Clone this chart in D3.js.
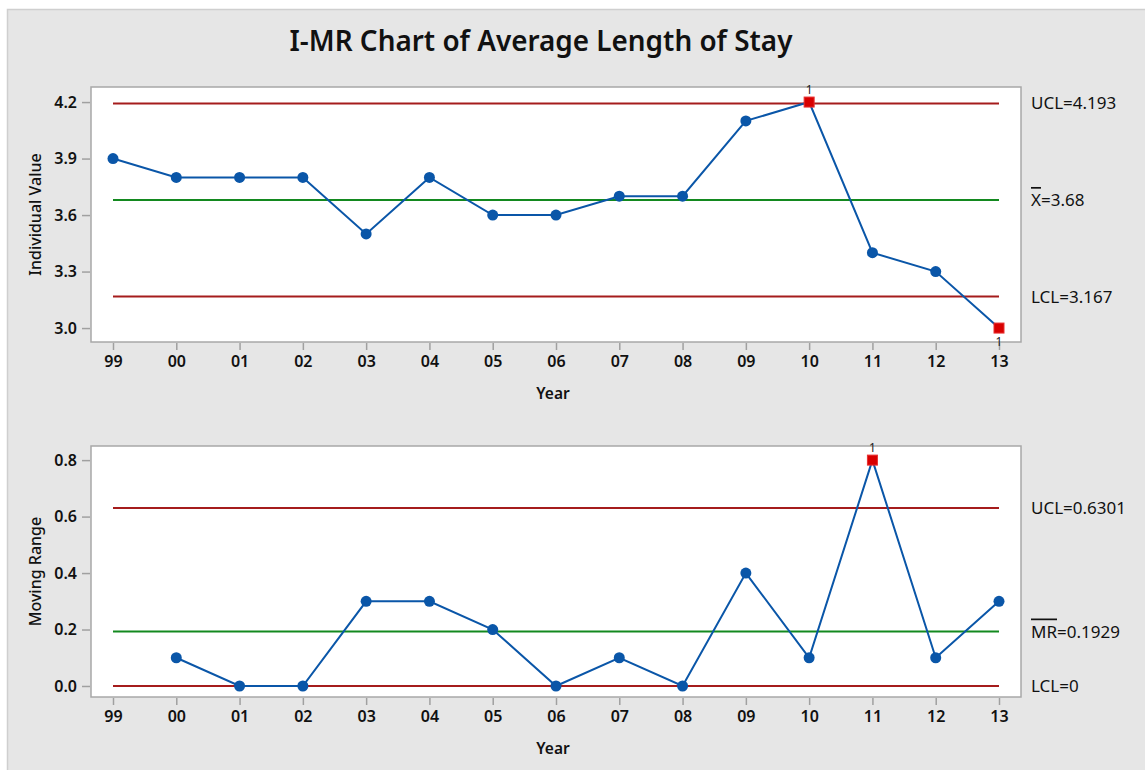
<!DOCTYPE html>
<html><head><meta charset="utf-8">
<script src="https://cdn.jsdelivr.net/npm/d3@7"></script>
<style>body{margin:0;background:#fff;} svg{display:block;font-family:"Noto Sans","Open Sans",sans-serif;}</style>
</head><body>
<svg id="c" width="1145" height="770"></svg>
<script>
const years = ["99","00","01","02","03","04","05","06","07","08","09","10","11","12","13"];
const individualValues = [3.9,3.8,3.8,3.8,3.5,3.8,3.6,3.6,3.7,3.7,4.1,4.2,3.4,3.3,3.0];
const movingRanges = [null,0.1,0,0,0.3,0.3,0.2,0,0.1,0,0.4,0.1,0.8,0.1,0.3];
const iTicks = [3.0,3.3,3.6,3.9,4.2];
const mrTicks = [0.0,0.2,0.4,0.6,0.8];
const iLimits = {ucl:4.193, center:3.68, lcl:3.167};
const mrLimits = {ucl:0.6301, center:0.1929, lcl:0};
const iFlags = [{i:11, pos:"above"},{i:14, pos:"below"}];
const mrFlags = [{i:12, pos:"above"}];

const svg = d3.select("#c");
svg.append("rect").attr("x",7.5).attr("y",9.5).attr("width",1145).attr("height",770)
  .attr("fill","#e6e6e6").attr("stroke","#cfcfcf").attr("stroke-width",1.5);

// Title
const title = svg.append("text").attr("x",541).attr("y",51).attr("text-anchor","middle")
  .attr("font-size",33).attr("font-weight",600).attr("fill","#111")
  .text("I-MR Chart of Average Length of Stay");
const tw = title.node().getComputedTextLength();
title.attr("font-size", 33*503/tw);

const RED="#a51c1c", GREEN="#13891f", BLUE="#0a56a8", FLAG="#d80000";

function panel(cfg){
  const {top,bottom,domain,ticks,fmt,values,limits,flags,yTitle,labels} = cfg;
  const left=91, right=1021;
  const x = d3.scalePoint().domain(years).range([113,999]);
  const y = d3.scaleLinear().domain(domain).range([bottom,top]);
  const g = svg.append("g");
  g.append("rect").attr("x",left).attr("y",top).attr("width",right-left).attr("height",bottom-top)
    .attr("fill","#fff").attr("stroke","#a8a8a8").attr("stroke-width",1.5);
  // axes
  const ya = g.append("g").attr("transform",`translate(${left-1},0)`)
    .call(d3.axisLeft(y).tickValues(ticks).tickFormat(fmt).tickSize(8).tickPadding(5));
  const xa = g.append("g").attr("transform",`translate(0,${bottom+1})`)
    .call(d3.axisBottom(x).tickSize(7).tickPadding(6));
  [ya,xa].forEach(a=>{
    a.select(".domain").remove();
    a.selectAll(".tick line").attr("stroke","#a0a0a0").attr("stroke-width",1.5);
    a.selectAll(".tick text").attr("font-size",16).attr("font-weight",600).attr("fill","#111")
     .attr("font-family","'Noto Sans','Open Sans',sans-serif");
  });
  g.append("text").attr("x",553).attr("y",bottom+57).attr("text-anchor","middle")
    .attr("font-size",15.5).attr("font-weight",600).attr("fill","#111").text("Year");
  g.append("text").attr("transform",`translate(41,${(top+bottom)/2}) rotate(-90)`)
    .attr("text-anchor","middle").attr("font-size",16).attr("font-weight",500).attr("fill","#111").text(yTitle);
  // control lines
  const x0 = x(years[0]), x1 = x(years[years.length-1]);
  [["ucl",RED],["center",GREEN],["lcl",RED]].forEach(([k,c])=>{
    g.append("line").attr("x1",x0).attr("x2",x1).attr("y1",y(limits[k])).attr("y2",y(limits[k]))
      .attr("stroke",c).attr("stroke-width",2);
  });
  // data line
  const pts = values.map((v,i)=>({v,i})).filter(d=>d.v!==null);
  g.append("path").datum(pts).attr("fill","none").attr("stroke",BLUE).attr("stroke-width",2)
    .attr("d", d3.line().x(d=>x(years[d.i])).y(d=>y(d.v)));
  const flagged = new Set(flags.map(f=>f.i));
  g.selectAll("circle.pt").data(pts.filter(d=>!flagged.has(d.i))).join("circle")
    .attr("cx",d=>x(years[d.i])).attr("cy",d=>y(d.v)).attr("r",5.5).attr("fill",BLUE);
  flags.forEach(f=>{
    const cx=x(years[f.i]), cy=y(values[f.i]);
    g.append("rect").attr("x",cx-5).attr("y",cy-5).attr("width",10).attr("height",10)
      .attr("fill",FLAG).attr("stroke","#e83030").attr("stroke-width",1);
    g.append("text").attr("x",cx).attr("y",f.pos==="above"?cy-8:cy+18).attr("text-anchor","middle")
      .attr("font-size",12).attr("fill","#222").text("1");
  });
  // right labels
  labels.forEach(l=>{
    const t = g.append("text").attr("x",1031).attr("y",y(limits[l.k])+6).attr("font-size",17).attr("fill","#111");
    if(l.bar){
      t.append("tspan").attr("text-decoration","overline").text(l.bar);
    }
    t.append("tspan").text(l.text);
  });
}

panel({top:87,bottom:342,domain:[2.926,4.28],ticks:iTicks,fmt:d3.format(".1f"),
  values:individualValues,limits:iLimits,flags:iFlags,yTitle:"Individual Value",
  labels:[{k:"ucl",text:"UCL=4.193"},{k:"center",bar:"X",text:"=3.68"},{k:"lcl",text:"LCL=3.167"}]});
panel({top:446,bottom:697,domain:[-0.039,0.85],ticks:mrTicks,fmt:d3.format(".1f"),
  values:movingRanges,limits:mrLimits,flags:mrFlags,yTitle:"Moving Range",
  labels:[{k:"ucl",text:"UCL=0.6301"},{k:"center",bar:"MR",text:"=0.1929"},{k:"lcl",text:"LCL=0"}]});
</script>
</body></html>
